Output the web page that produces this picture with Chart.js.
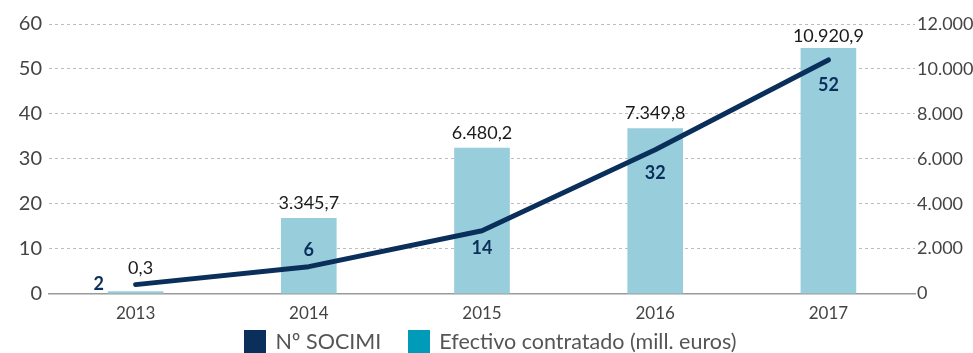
<!DOCTYPE html>
<html lang="es">
<head>
<meta charset="utf-8">
<title>SOCIMI</title>
<script src="https://cdn.jsdelivr.net/npm/chart.js@4"></script>
<style>
    html, body { margin: 0; padding: 0; background: #fff; overflow: hidden; }
    #wrap { position: relative; width: 973px; height: 353px; }
    #legend {
        position: absolute; left: 4px; top: 330px; width: 973px;
        display: flex; justify-content: center; gap: 27px;
        font-family: Lato, "Open Sans", sans-serif; font-size: 21.5px; color: #555;
        line-height: 23px;
    }
    #legend .item { display: flex; align-items: center; }
    #legend .swatch { width: 22px; height: 23px; margin-right: 9px; }
</style>
</head>
<body>
<div id="wrap">
    <canvas id="socimiChart"></canvas>
    <div id="legend"></div>
</div>
<script>
const years = ['2013', '2014', '2015', '2016', '2017'];
const numSocimi = [2, 6, 14, 32, 52];
const efectivo = [0.3, 3345.7, 6480.2, 7349.8, 10920.9];
const leftTicks = [0, 10, 20, 30, 40, 50, 60];
const rightTicks = [0, 2000, 4000, 6000, 8000, 10000, 12000];
const seriesNames = ['Nº SOCIMI', 'Efectivo contratado (mill. euros)'];

const NAVY = '#0b2f5b';
const BAR_BLUE = '#98cedc';
const LEGEND_TEAL = '#009bb9';
const FONT = 'Lato, "Open Sans", sans-serif';

// label nudges in px, one per year
const lineLabelShift = [[-37, 0], [0, -16], [0, 17], [0, 23], [0, 25]];
const barLabelShift = [[5, -23], [0, -15], [0, -15], [0, -15], [0, -12]];

// spanish number format: 10.920,9
function fmtEs(v, decimals) {
    let parts = v.toFixed(decimals).split('.');
    parts[0] = parts[0].replace(/\B(?=(\d{3})+(?!\d))/g, '.');
    return parts.join(',');
}

const valueLabels = {
    id: 'valueLabels',
    afterDatasetsDraw(chart) {
        const ctx = chart.ctx;
        ctx.save();
        ctx.textAlign = 'center';
        ctx.textBaseline = 'middle';

        const barMeta = chart.getDatasetMeta(1);
        ctx.font = '18px ' + FONT;
        ctx.fillStyle = '#1a1a1a';
        barMeta.data.forEach((bar, i) => {
            const s = barLabelShift[i];
            ctx.fillText(fmtEs(efectivo[i], 1), bar.x + s[0], bar.y + s[1]);
        });

        const lineMeta = chart.getDatasetMeta(0);
        ctx.font = 'bold 18px ' + FONT;
        ctx.fillStyle = NAVY;
        lineMeta.data.forEach((pt, i) => {
            const s = lineLabelShift[i];
            ctx.fillText(String(numSocimi[i]), pt.x + s[0], pt.y + s[1]);
        });
        ctx.restore();
    }
};

// legend as plain html under the plot
const legendEl = document.getElementById('legend');
[NAVY, LEGEND_TEAL].forEach((col, i) => {
    const item = document.createElement('span');
    item.className = 'item';
    item.innerHTML = `<span class="swatch" style="background:${col}"></span>${seriesNames[i]}`;
    legendEl.appendChild(item);
});

new Chart(document.getElementById('socimiChart'), {
    data: {
        labels: years,
        datasets: [
            {
                type: 'line',
                label: seriesNames[0],
                data: numSocimi,
                yAxisID: 'y',
                borderColor: NAVY,
                backgroundColor: NAVY,
                borderWidth: 5,
                borderCapStyle: 'round',
                borderJoinStyle: 'round',
                pointRadius: 0,
                tension: 0,
                order: 0
            },
            {
                type: 'bar',
                label: seriesNames[1],
                data: efectivo,
                yAxisID: 'y1',
                backgroundColor: BAR_BLUE,
                barThickness: 55,
                minBarLength: 2,
                order: 1
            }
        ]
    },
    options: {
        responsive: true,
        maintainAspectRatio: false,
        animation: false,
        layout: { padding: { top: 24, left: 0, right: 0, bottom: 19 } },
        plugins: {
            tooltip: { enabled: false },
            legend: { display: false }
        },
        scales: {
            x: {
                offset: true,
                grid: { display: false, drawTicks: false },
                border: { display: true, color: '#9a9a9a', width: 1.5 },
                ticks: { color: '#444', font: { family: FONT, size: 17 }, padding: 10 }
            },
            y: {
                position: 'left',
                min: 0,
                max: 60,
                afterBuildTicks: axis => { axis.ticks = leftTicks.map(v => ({ value: v })); },
                afterFit: axis => { axis.width = 49; },
                grid: {
                    drawTicks: false,
                    color: c => c.tick && c.tick.value === 0 ? 'transparent' : '#bdbdbd',
                    lineWidth: 1
                },
                border: { display: false, dash: [3, 3] },
                ticks: { color: '#444', font: { family: FONT, size: 20 }, padding: 7 }
            },
            y1: {
                position: 'right',
                min: 0,
                max: 12000,
                afterBuildTicks: axis => { axis.ticks = rightTicks.map(v => ({ value: v })); },
                afterFit: axis => { axis.width = 58; },
                grid: { display: false, drawTicks: false },
                border: { display: false },
                ticks: {
                    color: '#444',
                    font: { family: FONT, size: 18 },
                    padding: 2,
                    callback: v => fmtEs(v, 0)
                }
            }
        }
    },
    plugins: [valueLabels]
});
</script>
</body>
</html>
